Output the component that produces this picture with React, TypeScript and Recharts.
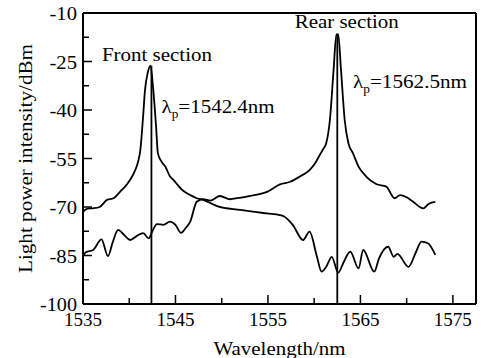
import React from "react";
import {
  LineChart,
  Line,
  XAxis,
  YAxis,
  ReferenceLine,
  ReferenceDot,
} from "recharts";

// front section spectrum (peak at 1542.4 nm)
const frontWl = [
  1535.0, 1535.5, 1536.1, 1536.8, 1537.6, 1538.3, 1539.0, 1539.7, 1540.4,
  1540.8, 1541.0, 1541.2, 1541.5, 1541.7, 1542.0, 1542.3, 1542.6, 1542.9,
  1543.1, 1543.5, 1543.9, 1544.4, 1544.8, 1545.8, 1546.6, 1547.3, 1548.0,
  1549.5, 1552.0, 1554.9, 1556.3, 1556.8, 1557.7, 1558.8, 1559.5, 1560.3,
  1560.8, 1561.3, 1561.9, 1562.6, 1563.2, 1563.9, 1564.8, 1565.3, 1566.5,
  1567.0, 1568.0, 1568.6, 1569.0, 1570.2, 1571.0, 1571.6, 1572.3, 1573.1,
];
const frontDbm = [
  -71.5, -70.5, -70.4, -70.0, -67.8, -67.3, -65.3, -63.2, -60.1,
  -57.5, -55.5, -52.4, -42.0, -34.0, -28.5, -26.3, -33.8, -45.0,
  -53.4, -56.0, -57.5, -60.5, -61.7, -64.9, -66.3, -67.3, -67.8,
  -69.7, -70.9, -72.0, -72.5, -73.0, -75.6, -80.2, -77.6, -85.4,
  -90.0, -88.5, -85.4, -90.3, -87.0, -83.8, -89.0, -83.3, -90.0,
  -86.0, -82.3, -85.4, -84.5, -88.5, -84.0, -80.7, -81.2, -84.8,
];

// rear section spectrum (peak at 1562.5 nm)
const rearWl = [
  1535.0, 1535.3, 1536.1, 1537.0, 1537.7, 1538.2, 1538.8, 1539.4, 1540.1,
  1540.8, 1541.5, 1542.1, 1542.5, 1543.0, 1543.7, 1544.4, 1545.0, 1545.6,
  1546.1, 1546.6, 1547.3, 1548.0, 1548.8, 1549.8, 1550.9, 1551.8, 1552.7,
  1553.8, 1554.9, 1556.3, 1557.4, 1558.5, 1559.5, 1560.1, 1560.6, 1561.0,
  1561.3, 1561.7, 1562.1, 1562.4, 1562.6, 1562.9, 1563.3, 1563.7, 1564.2,
  1564.8, 1565.6, 1566.7, 1567.8, 1568.7, 1569.3, 1570.0, 1570.7, 1571.8,
  1572.4, 1573.1,
];
const rearDbm = [
  -85.4, -84.0, -83.3, -80.0, -85.2, -81.0, -77.1, -78.5, -80.2,
  -79.0, -78.1, -79.7, -77.5, -75.3, -75.5, -74.5, -75.5, -78.0,
  -76.5, -74.5, -68.4, -67.6, -68.0, -66.6, -67.6, -67.2, -66.8,
  -66.2, -65.3, -63.0, -62.2, -60.5, -58.6, -56.5, -53.9, -52.0,
  -50.3, -43.1, -27.6, -16.6, -16.6, -27.6, -43.1, -50.3, -53.4,
  -57.5, -60.5, -62.9, -63.7, -67.3, -66.3, -67.0, -68.4, -70.4,
  -69.0, -68.4,
];

const xTicks = [1535, 1540, 1545, 1550, 1555, 1560, 1565, 1570, 1575];
const xLabelled = [1535, 1545, 1555, 1565, 1575];
const yTicks = [-100, -92.5, -85, -77.5, -70, -62.5, -55, -47.5, -40, -32.5, -25, -17.5, -10];
const yLabelled = [-100, -85, -70, -55, -40, -25, -10];

const peakWl = [1542.4, 1562.5];
const peakDbm = [-26.3, -16.6];

const front = frontWl.map((x, i) => ({ x, y: frontDbm[i] }));
const rear = rearWl.map((x, i) => ({ x, y: rearDbm[i] }));

const FONT = "'Liberation Serif', 'Times New Roman', serif";

function XTick(props: any) {
  const { x, y, payload } = props;
  const major = xLabelled.includes(payload.value);
  return (
    <g>
      <line x1={x} x2={x} y1={y} y2={y - (major ? 9 : 6)} stroke="#000" strokeWidth={1.5} />
      {major && (
        <text x={x} y={y + 22} textAnchor="middle" fontFamily={FONT} fontSize={18}
          textLength={38} lengthAdjust="spacingAndGlyphs" fill="#000">
          {payload.value}
        </text>
      )}
    </g>
  );
}

function YTick(props: any) {
  const { x, y, payload } = props;
  const major = yLabelled.includes(payload.value);
  const s = String(payload.value);
  return (
    <g>
      <line x1={x} x2={x + (major ? 9 : 6)} y1={y} y2={y} stroke="#000" strokeWidth={1.5} />
      {major && (
        <text x={x - 6} y={y + 7} textAnchor="end" fontFamily={FONT} fontSize={18}
          textLength={(s.length - 1) * 9.5 + 8.5} lengthAdjust="spacingAndGlyphs" fill="#000">
          {s}
        </text>
      )}
    </g>
  );
}

function Note(props: any) {
  const { viewBox, text, width } = props;
  if (!viewBox) return null;
  return (
    <text x={viewBox.x} y={viewBox.y} fontFamily={FONT} fontSize={19} fill="#000"
      textLength={width} lengthAdjust="spacingAndGlyphs">
      {text}
    </text>
  );
}

function Lambda(props: any) {
  const { viewBox, value, width } = props;
  if (!viewBox) return null;
  return (
    <text x={viewBox.x} y={viewBox.y} fontFamily={FONT} fontSize={19} fill="#000"
      textLength={width} lengthAdjust="spacingAndGlyphs">
      <tspan>λ</tspan>
      <tspan dy={5} fontSize={12}>p</tspan>
      <tspan dy={-5}>={value}nm</tspan>
    </text>
  );
}

function XTitle(props: any) {
  const { viewBox } = props;
  if (!viewBox) return null;
  return (
    <text x={viewBox.x + viewBox.width / 2} y={viewBox.y + 51} textAnchor="middle"
      fontFamily={FONT} fontSize={19} fill="#000" textLength={132} lengthAdjust="spacingAndGlyphs">
      Wavelength/nm
    </text>
  );
}

function YTitle(props: any) {
  const { viewBox } = props;
  if (!viewBox) return null;
  const cx = viewBox.x + 32;
  const cy = viewBox.y + viewBox.height / 2;
  return (
    <text x={cx} y={cy} textAnchor="middle" transform={`rotate(-90, ${cx}, ${cy})`}
      fontFamily={FONT} fontSize={19} fill="#000" textLength={229} lengthAdjust="spacingAndGlyphs">
      Light power intensity/dBm
    </text>
  );
}

export default function App() {
  return (
    <div style={{ position: "absolute", left: 0, top: 0, background: "#fff" }}>
      <LineChart width={482} height={358} margin={{ top: 13, right: 6, bottom: 0, left: 0 }}>
        <XAxis
          type="number"
          dataKey="x"
          domain={[1535, 1577.5]}
          ticks={xTicks}
          interval={0}
          allowDataOverflow
          tickSize={0}
          tickMargin={0}
          tickLine={false}
          tick={<XTick />}
          axisLine={{ stroke: "#000", strokeWidth: 2 }}
          height={54}
          label={<XTitle />}
        />
        <YAxis
          type="number"
          domain={[-100, -10]}
          ticks={yTicks}
          interval={0}
          allowDataOverflow
          tickSize={0}
          tickMargin={0}
          tickLine={false}
          tick={<YTick />}
          axisLine={{ stroke: "#000", strokeWidth: 2 }}
          width={83}
          label={<YTitle />}
        />
        <ReferenceLine y={-10} stroke="#000" strokeWidth={2} />
        <ReferenceLine x={1577.5} stroke="#000" strokeWidth={2} />
        {peakWl.map((wl, i) => (
          <ReferenceLine
            key={wl}
            segment={[{ x: wl, y: peakDbm[i] }, { x: wl, y: -100 }]}
            stroke="#000"
            strokeWidth={1.8}
          />
        ))}
        <Line data={front} dataKey="y" type="monotone" stroke="#000" strokeWidth={1.8}
          dot={false} isAnimationActive={false} />
        <Line data={rear} dataKey="y" type="monotone" stroke="#000" strokeWidth={1.8}
          dot={false} isAnimationActive={false} />
        <ReferenceDot x={1537.05} y={-24.85} r={0} fill="none" stroke="none"
          label={<Note text="Front section" width={110} />} />
        <ReferenceDot x={1557.9} y={-14.6} r={0} fill="none" stroke="none"
          label={<Note text="Rear section" width={104} />} />
        <ReferenceDot x={1543.5} y={-40.9} r={0} fill="none" stroke="none"
          label={<Lambda value="1542.4" width={113} />} />
        <ReferenceDot x={1564.2} y={-33.2} r={0} fill="none" stroke="none"
          label={<Lambda value="1562.5" width={114} />} />
      </LineChart>
    </div>
  );
}
